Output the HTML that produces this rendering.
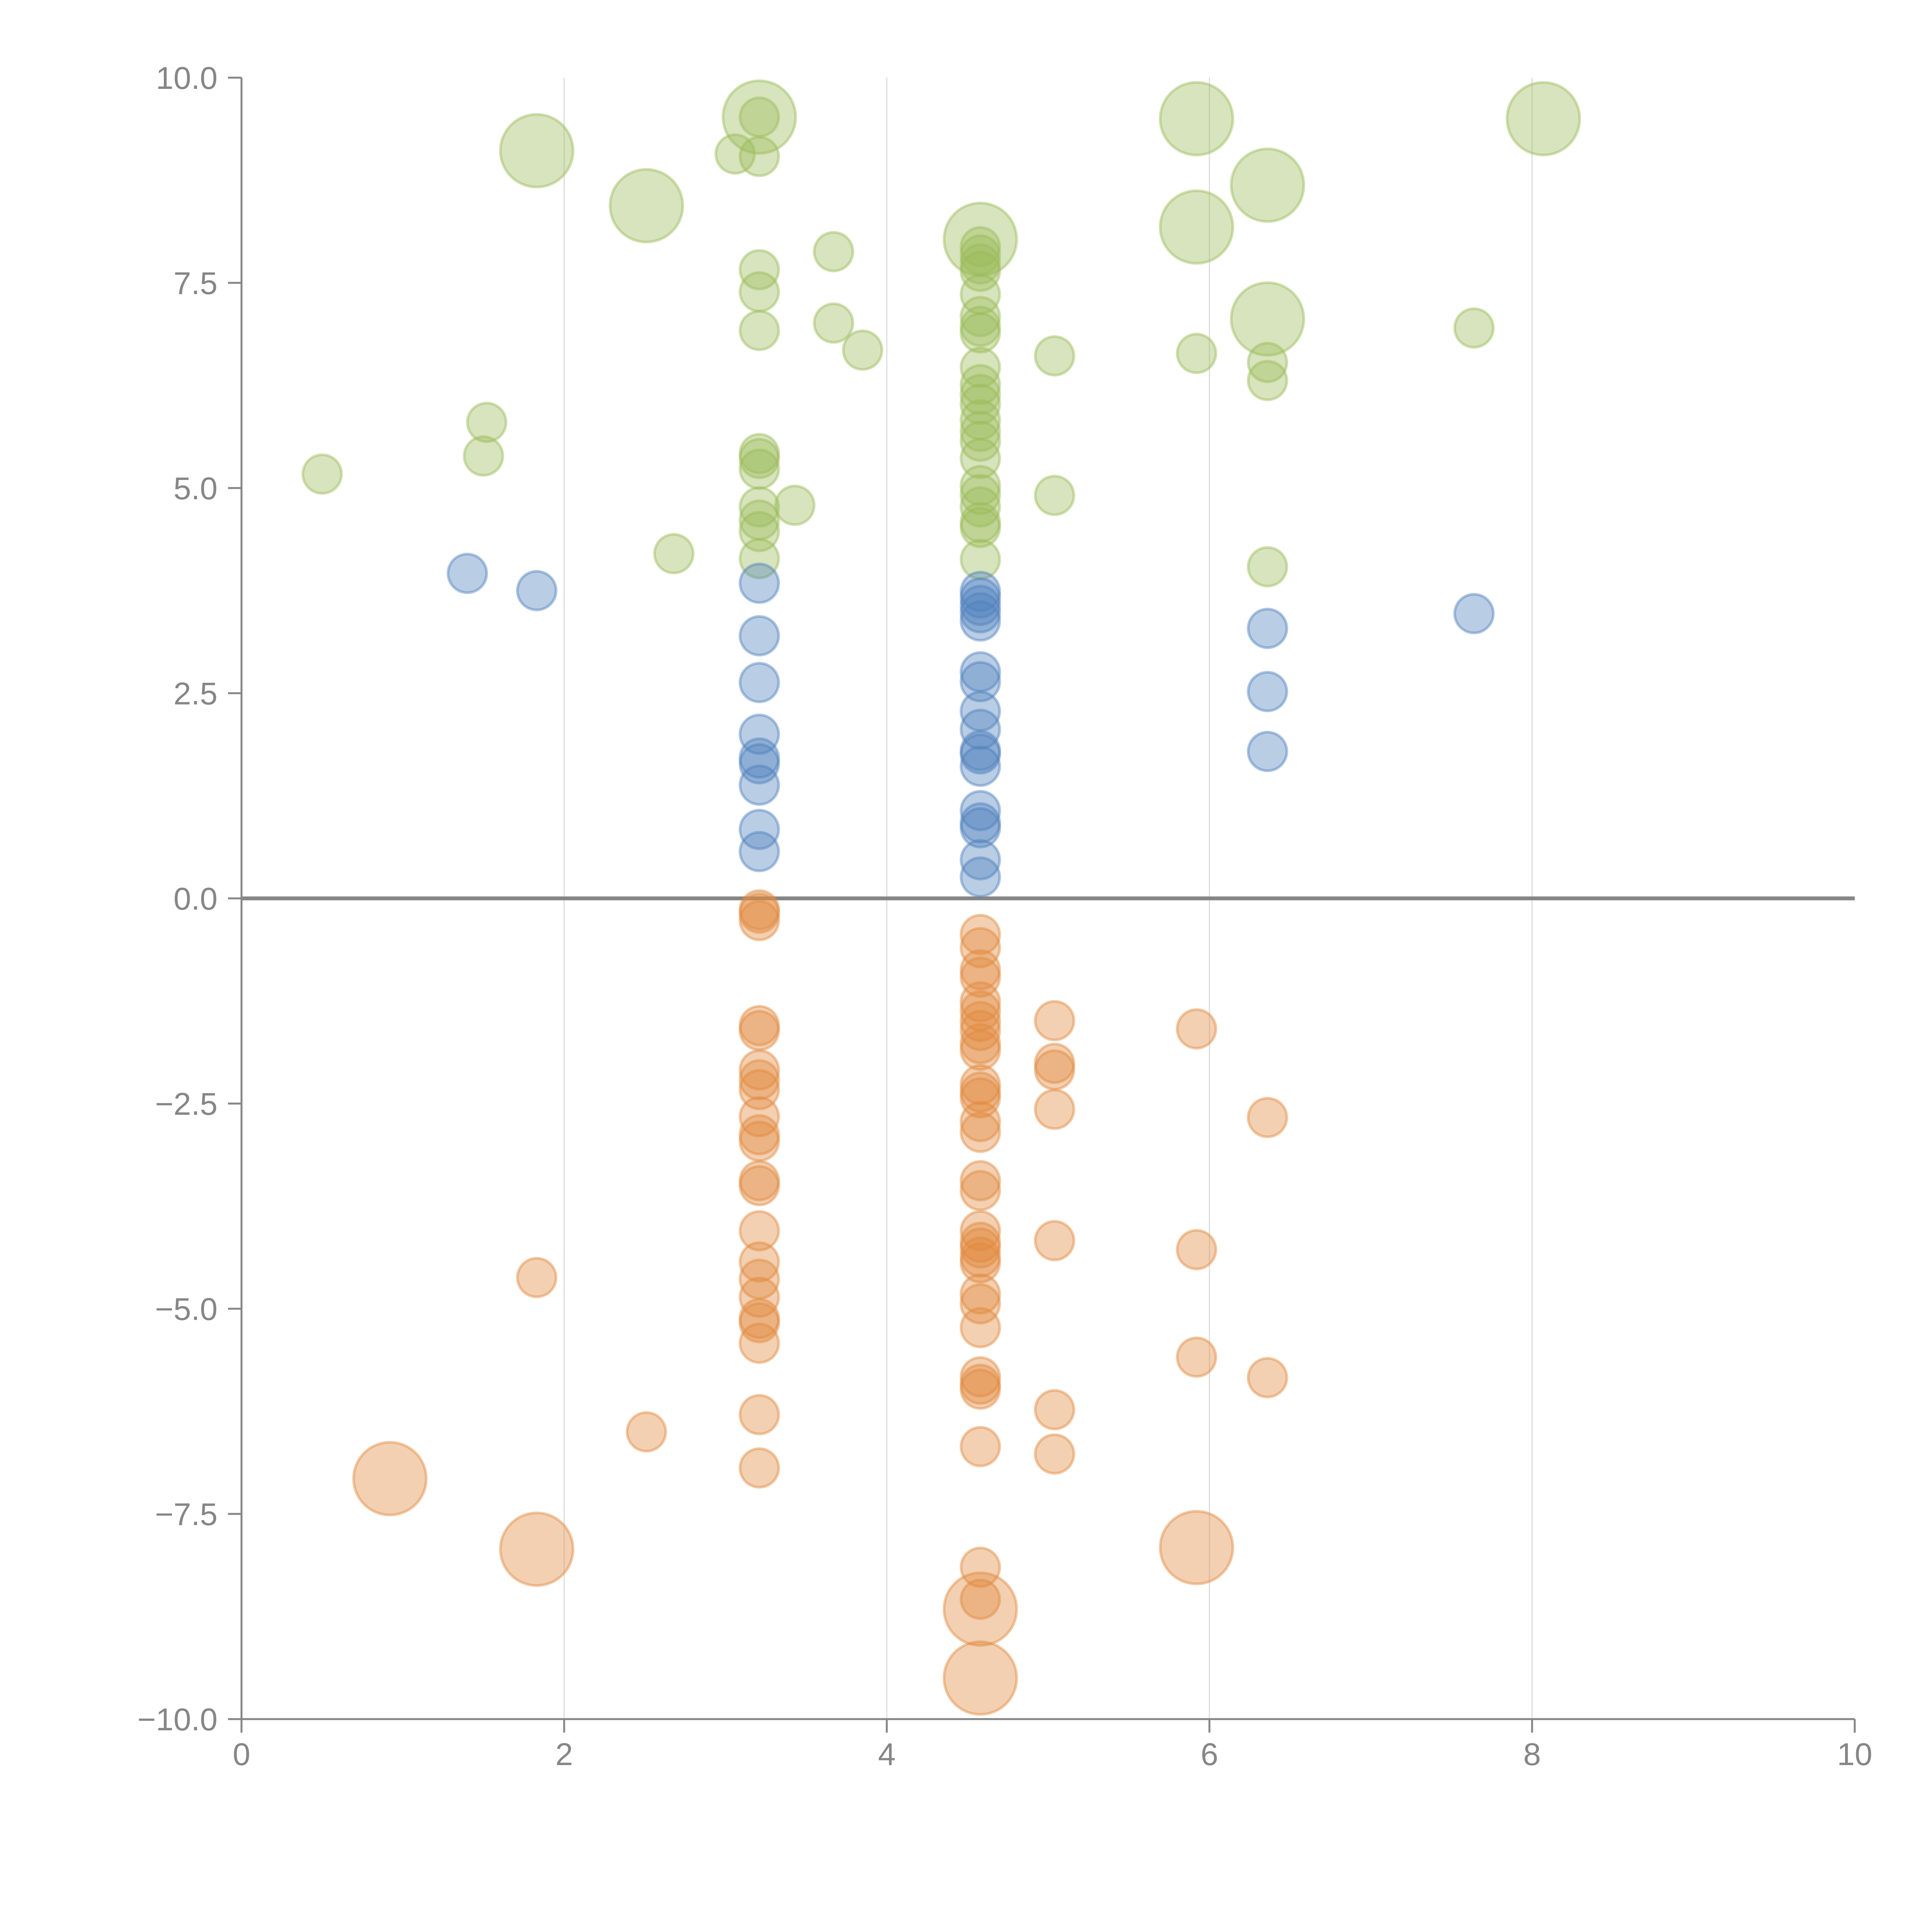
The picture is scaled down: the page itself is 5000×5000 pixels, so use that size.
<!DOCTYPE html>
<html><head><meta charset="utf-8"><style>
html,body{margin:0;padding:0;background:#fff;}
svg{display:block;}
text{font-family:"Liberation Sans",Arial,sans-serif;}
</style></head><body>
<svg id="chart" width="5000" height="5000" viewBox="0 0 5000 5000" xmlns="http://www.w3.org/2000/svg">
<rect width="5000" height="5000" fill="#fff"/>
<g id="grid"></g>
<g id="axes"></g>
<g id="marks"></g>
</svg>
<script>
const greenX=[0.50,1.52,1.50,1.83,2.51,2.68,3.06,3.21,3.21,3.21,3.21,3.21,3.21,3.21,3.21,3.21,3.21,3.21,3.21,3.21,3.43,3.67,3.67,3.85,4.58,4.58,4.58,4.58,4.58,4.58,4.58,4.58,4.58,4.58,4.58,4.58,4.58,4.58,4.58,4.58,4.58,4.58,4.58,4.58,4.58,4.58,4.58,5.04,5.04,5.92,5.92,5.92,6.36,6.36,6.36,6.36,6.36,7.64,8.07];
const greenY=[5.17,5.80,5.39,9.11,8.44,4.20,9.07,9.52,9.52,9.04,7.66,7.39,6.92,5.42,5.36,5.23,4.77,4.61,4.47,4.14,4.79,7.88,7.01,6.68,8.03,7.94,7.84,7.73,7.64,7.36,7.09,6.97,6.89,6.47,6.26,6.14,6.02,5.83,5.69,5.57,5.36,5.03,4.92,4.77,4.58,4.52,4.13,6.61,4.91,9.50,8.18,6.64,8.69,7.06,6.53,6.31,4.04,6.95,9.50];
const greenBig=[0,0,0,1,1,0,0,1,0,0,0,0,0,0,0,0,0,0,0,0,0,0,0,0,1,0,0,0,0,0,0,0,0,0,0,0,0,0,0,0,0,0,0,0,0,0,0,0,0,1,1,0,1,1,0,0,0,0,1];
const blueX=[1.40,1.83,3.21,3.21,3.21,3.21,3.21,3.21,3.21,3.21,3.21,4.58,4.58,4.58,4.58,4.58,4.58,4.58,4.58,4.58,4.58,4.58,4.58,4.58,4.58,4.58,4.58,4.58,6.36,6.36,6.36,7.64];
const blueY=[3.96,3.75,3.84,3.20,2.63,2.00,1.71,1.64,1.38,0.84,0.57,3.74,3.66,3.57,3.48,3.38,2.76,2.64,2.28,2.06,1.80,1.76,1.61,1.07,0.92,0.86,0.47,0.26,3.29,2.52,1.79,3.47];
const orangeX=[0.92,1.83,1.83,2.51,
3.21,3.21,3.21,3.21,3.21,
3.21,3.21,3.21,3.21,3.21,
3.21,3.21,3.21,3.21,3.21,
3.21,3.21,3.21,3.21,3.21,
3.21,3.21,
4.58,4.58,4.58,4.58,4.58,
4.58,4.58,4.58,4.58,4.58,
4.58,4.58,4.58,4.58,4.58,
4.58,4.58,4.58,4.58,4.58,
4.58,4.58,4.58,4.58,4.58,
4.58,4.58,4.58,4.58,4.58,
4.58,4.58,4.58,
5.04,5.04,5.04,5.04,5.04,5.04,5.04,
5.92,5.92,5.92,5.92,
6.36,6.36];
const orangeY=[-7.07,-4.62,-7.93,-6.50,
-0.14,-0.18,-0.27,-1.55,-1.61,
-2.09,-2.21,-2.33,-2.66,-2.88,
-2.96,-3.44,-3.50,-4.05,-4.43,
-4.64,-4.86,-5.12,-5.17,-5.42,
-6.29,-6.94,
-0.44,-0.60,-0.87,-0.96,-1.26,
-1.37,-1.50,-1.61,-1.77,-1.85,
-2.27,-2.36,-2.43,-2.72,-2.85,
-3.44,-3.56,-4.05,-4.19,-4.26,
-4.37,-4.44,-4.82,-4.94,-5.23,
-5.83,-5.92,-5.98,-6.68,-8.15,
-8.54,-8.66,-9.50,
-1.49,-2.01,-2.09,-2.57,-4.17,-6.23,-6.77,
-1.59,-4.28,-5.59,-7.91,
-2.67,-5.84];
const orangeBig=[1,0,1,0,
0,0,0,0,0,
0,0,0,0,0,
0,0,0,0,0,
0,0,0,0,0,
0,0,
0,0,0,0,0,
0,0,0,0,0,
0,0,0,0,0,
0,0,0,0,0,
0,0,0,0,0,
0,0,0,0,0,
0,1,1,
0,0,0,0,0,0,0,
0,0,0,1,
0,0];
const xTicks=[0,2,4,6,8,10];
const xTickLabels=["0","2","4","6","8","10"];
const yTicks=[-10,-7.5,-5,-2.5,0,2.5,5,7.5,10];
const yTickLabels=["\u221210.0","\u22127.5","\u22125.0","\u22122.5","0.0","2.5","5.0","7.5","10.0"];

const X0=625,X1=4800,Y0=4449,Y1=201;
function sx(v){return X0+(v-0)/(10-0)*(X1-X0);}
function sy(v){return Y0-(v+10)/20*(Y0-Y1);}
const NS="http://www.w3.org/2000/svg";
function mk(tag,attrs,parent){const e=document.createElementNS(NS,tag);for(const k in attrs)e.setAttribute(k,attrs[k]);parent.appendChild(e);return e;}
const grid=document.getElementById('grid'),axes=document.getElementById('axes'),marks=document.getElementById('marks');

xTicks.forEach((t,i)=>{
  if(t>0&&t<10){
    const g=mk('line',{x1:sx(t),x2:sx(t),y1:Y1,y2:Y0,stroke:'#dcdcdc','stroke-width':3},grid);
    
    
  }
  const tk=mk('line',{x1:sx(t),x2:sx(t),y1:Y0,y2:Y0+35,stroke:'#868686','stroke-width':5},axes);
  
  
  const lb=mk('text',{x:sx(t),y:Y0+119,'text-anchor':'middle','font-size':82,fill:'#868686'},axes);
  lb.textContent=xTickLabels[i];
  
  
});
yTicks.forEach((t,i)=>{
  const tk=mk('line',{x1:X0-35,x2:X0,y1:sy(t),y2:sy(t),stroke:'#868686','stroke-width':5},axes);
  
  
  const lb=mk('text',{x:X0-62,y:sy(t)+29,'text-anchor':'end','font-size':82,fill:'#868686'},axes);
  lb.textContent=yTickLabels[i];
  
  
});
const ya=mk('line',{x1:X0,x2:X0,y1:Y1,y2:Y0,stroke:'#868686','stroke-width':5},axes);


const xa=mk('line',{x1:X0,x2:X1,y1:Y0,y2:Y0,stroke:'#868686','stroke-width':5},axes);


const zl=mk('line',{x1:X0,x2:X1,y1:sy(0),y2:sy(0),stroke:'#868686','stroke-width':10},axes);



function drawSeries(xs,ys,big,color,name){
  const g=mk('g',{},marks);
  
  
  const n=Math.min(xs.length,ys.length);
  for(let i=0;i<n;i++){
    const r=(big&&big[i])?94:50;
    const c=mk('circle',{cx:sx(xs[i]),cy:sy(ys[i]),r:r,fill:color,'fill-opacity':0.4,stroke:color,'stroke-opacity':0.45,'stroke-width':7},g);
    
    
  }
}
drawSeries(greenX,greenY,greenBig,'#9bbb59','green');
drawSeries(blueX,blueY,null,'#4f81bd','blue');
drawSeries(orangeX,orangeY,orangeBig,'#e2893f','orange');
</script>
</body></html>
